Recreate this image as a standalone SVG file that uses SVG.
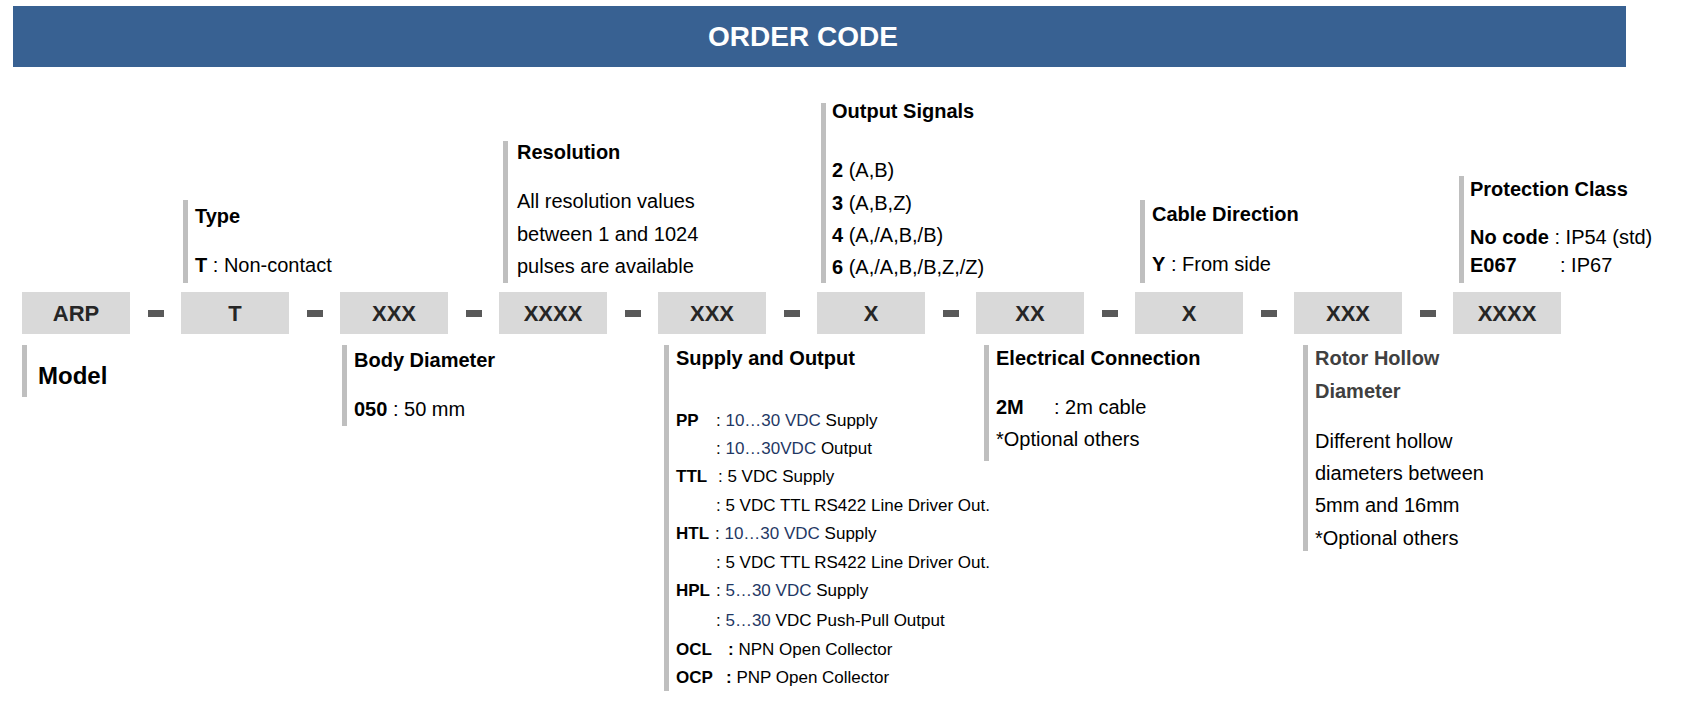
<svg xmlns="http://www.w3.org/2000/svg" width="1690" height="722" viewBox="0 0 1690 722">
<style>
text{font-family:"Liberation Sans",Arial,sans-serif;fill:#000}
.box{fill:#d9d9d9}
.bt{font-size:22px;font-weight:bold;fill:#262626;text-anchor:middle}
.dash{fill:#595959}
.bar{fill:#bfbfbf}
.h{font-size:20px;font-weight:bold}
.t{font-size:20px}
.s{font-size:17px}
.b{font-weight:bold}
.bl{fill:#1f3864}
</style>
<rect x="13" y="6" width="1613" height="61" fill="#386192"/>
<text x="803" y="46" font-size="28" font-weight="bold" fill="#fff" style="fill:#fff" text-anchor="middle">ORDER CODE</text>
<g id="nodes">
<g id="n1"><rect class="box" x="22" y="292" width="108" height="42"/><text class="bt" x="76" y="321">ARP</text></g>
<g id="n2"><rect class="box" x="181" y="292" width="108" height="42"/><text class="bt" x="235" y="321">T</text></g>
<g id="n3"><rect class="box" x="340" y="292" width="108" height="42"/><text class="bt" x="394" y="321">XXX</text></g>
<g id="n4"><rect class="box" x="499" y="292" width="108" height="42"/><text class="bt" x="553" y="321">XXXX</text></g>
<g id="n5"><rect class="box" x="658" y="292" width="108" height="42"/><text class="bt" x="712" y="321">XXX</text></g>
<g id="n6"><rect class="box" x="817" y="292" width="108" height="42"/><text class="bt" x="871" y="321">X</text></g>
<g id="n7"><rect class="box" x="976" y="292" width="108" height="42"/><text class="bt" x="1030" y="321">XX</text></g>
<g id="n8"><rect class="box" x="1135" y="292" width="108" height="42"/><text class="bt" x="1189" y="321">X</text></g>
<g id="n9"><rect class="box" x="1294" y="292" width="108" height="42"/><text class="bt" x="1348" y="321">XXX</text></g>
<g id="n10"><rect class="box" x="1453" y="292" width="108" height="42"/><text class="bt" x="1507" y="321">XXXX</text></g>
</g>
<g id="connectors">
<rect class="dash" x="148" y="310" width="16" height="7"/>
<rect class="dash" x="307" y="310" width="16" height="7"/>
<rect class="dash" x="466" y="310" width="16" height="7"/>
<rect class="dash" x="625" y="310" width="16" height="7"/>
<rect class="dash" x="784" y="310" width="16" height="7"/>
<rect class="dash" x="943" y="310" width="16" height="7"/>
<rect class="dash" x="1102" y="310" width="16" height="7"/>
<rect class="dash" x="1261" y="310" width="16" height="7"/>
<rect class="dash" x="1420" y="310" width="16" height="7"/>
</g>
<g id="type"><rect class="bar" x="183" y="200" width="5" height="83"/>
<text class="h" x="195" y="223">Type</text>
<text class="t" x="195" y="272"><tspan class="b">T</tspan>  :  Non-contact</text></g>
<g id="resolution"><rect class="bar" x="503" y="141" width="5" height="142"/>
<text class="h" x="517" y="159">Resolution</text>
<text class="t" x="517" y="208">All resolution values</text>
<text class="t" x="517" y="241">between 1 and 1024</text>
<text class="t" x="517" y="273">pulses are available</text></g>
<g id="signals"><rect class="bar" x="821" y="103" width="5" height="180"/>
<text class="h" x="832" y="118">Output Signals</text>
<text class="t" x="832" y="177"><tspan class="b">2</tspan> (A,B)</text>
<text class="t" x="832" y="210"><tspan class="b">3</tspan> (A,B,Z)</text>
<text class="t" x="832" y="242"><tspan class="b">4</tspan> (A,/A,B,/B)</text>
<text class="t" x="832" y="274"><tspan class="b">6</tspan> (A,/A,B,/B,Z,/Z)</text></g>
<g id="cable"><rect class="bar" x="1140" y="200" width="5" height="83"/>
<text class="h" x="1152" y="221">Cable Direction</text>
<text class="t" x="1152" y="271"><tspan class="b">Y</tspan> : From side</text></g>
<g id="protection"><rect class="bar" x="1459" y="176" width="5" height="107"/>
<text class="h" x="1470" y="196">Protection Class</text>
<text class="t" x="1470" y="244"><tspan class="b">No code</tspan> : IP54 (std)</text>
<text class="t" x="1470" y="272"><tspan class="b">E067</tspan></text>
<text class="t" x="1560" y="272">: IP67</text></g>
<g id="model"><rect class="bar" x="22" y="345" width="5" height="52"/>
<text x="38" y="384" font-size="24" font-weight="bold">Model</text></g>
<g id="body"><rect class="bar" x="342" y="345" width="5" height="81"/>
<text class="h" x="354" y="367">Body Diameter</text>
<text class="t" x="354" y="416"><tspan class="b">050</tspan>  : 50 mm</text></g>
<g id="supply"><rect class="bar" x="664" y="345" width="5" height="346"/>
<text class="h" x="676" y="365">Supply and Output</text>
<g class="s">
<text class="s b" x="676" y="426">PP</text><text class="s" x="716" y="426">: <tspan class="bl">10…30 VDC</tspan> Supply</text>
<text class="s" x="716" y="454">: <tspan class="bl">10…30VDC</tspan> Output</text>
<text class="s b" x="676" y="482">TTL</text><text class="s" x="718" y="482">: 5 VDC Supply</text>
<text class="s" x="716" y="511">: 5 VDC TTL RS422 Line Driver Out.</text>
<text class="s b" x="676" y="539">HTL</text><text class="s" x="715" y="539">: <tspan class="bl">10…30 VDC</tspan> Supply</text>
<text class="s" x="716" y="568">: 5 VDC TTL RS422 Line Driver Out.</text>
<text class="s b" x="676" y="596">HPL</text><text class="s" x="716" y="596">: <tspan class="bl">5…30 VDC</tspan> Supply</text>
<text class="s" x="716" y="626">: <tspan class="bl">5…30</tspan> VDC Push-Pull Output</text>
<text class="s b" x="676" y="655">OCL</text><text class="s" x="728" y="655"><tspan class="b">:</tspan> NPN Open Collector</text>
<text class="s b" x="676" y="683">OCP</text><text class="s" x="726" y="683"><tspan class="b">:</tspan> PNP Open Collector</text>
</g></g>
<g id="electrical"><rect class="bar" x="984" y="345" width="5" height="116"/>
<text class="h" x="996" y="365">Electrical Connection</text>
<text class="t" x="996" y="414"><tspan class="b">2M</tspan></text><text class="t" x="1054" y="414">: 2m cable</text>
<text class="t" x="996" y="446">*Optional others</text></g>
<g id="rotor"><rect class="bar" x="1303" y="345" width="5" height="206"/>
<text class="h" x="1315" y="365" style="fill:#404040">Rotor Hollow</text>
<text class="h" x="1315" y="398" style="fill:#404040">Diameter</text>
<text class="t" x="1315" y="448">Different hollow</text>
<text class="t" x="1315" y="480">diameters between</text>
<text class="t" x="1315" y="512">5mm and 16mm</text>
<text class="t" x="1315" y="545">*Optional others</text></g>
</svg>
